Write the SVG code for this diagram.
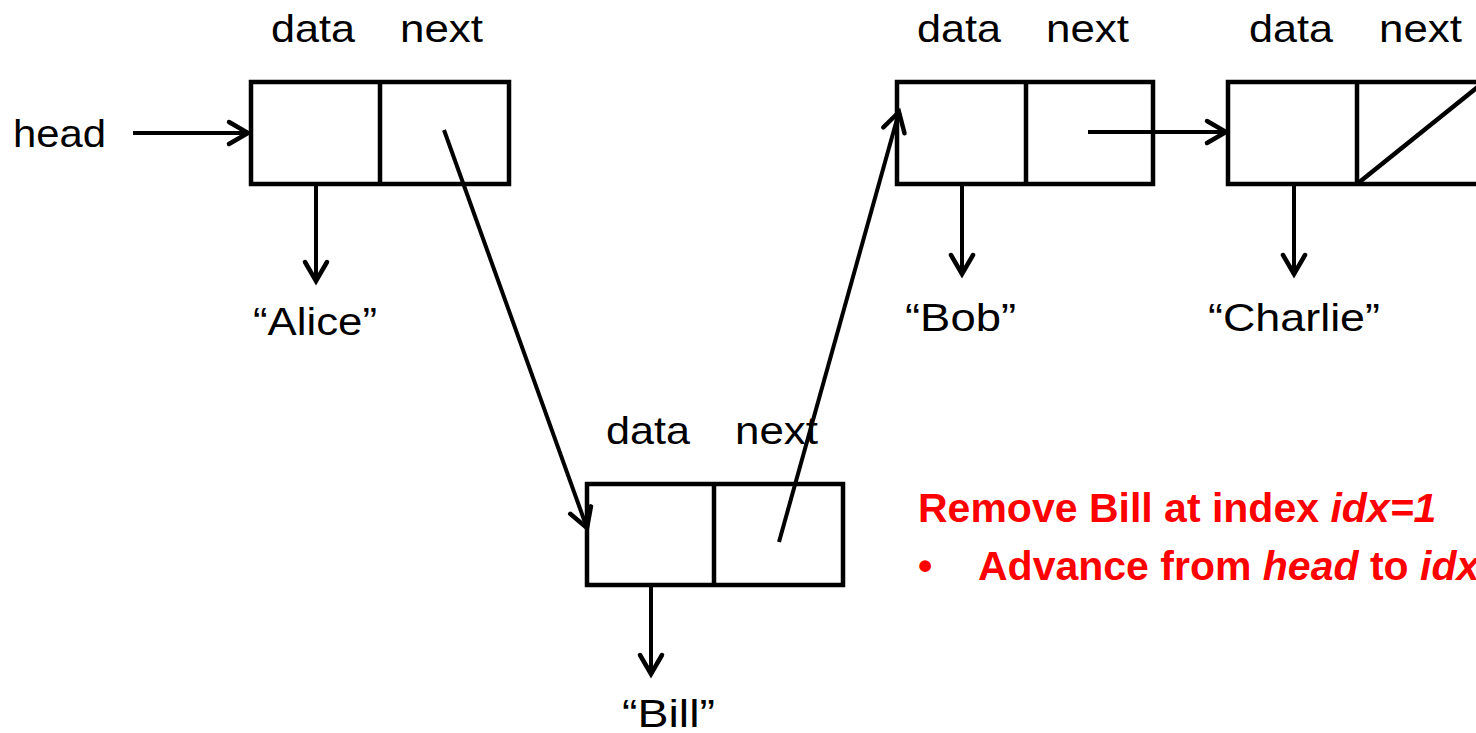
<svg xmlns="http://www.w3.org/2000/svg" width="1476" height="733" viewBox="0 0 1476 733">
<style>
  .box{fill:#fff;stroke:#000;stroke-width:4.5}
  .div{stroke:#000;stroke-width:4.5}
  .lbl{font-family:"Liberation Sans",Arial,sans-serif;font-size:39px;fill:#000}
  .conn{stroke:#000;stroke-width:4;fill:none;marker-end:url(#arr)}
  .red{font-family:"Liberation Sans",Arial,sans-serif;font-size:41px;font-weight:bold;fill:#ff0000}
</style>
<defs>
  <marker id="arr" markerUnits="userSpaceOnUse" markerWidth="40" markerHeight="40" viewBox="-30 -20 40 40" refX="0" refY="0" orient="auto">
    <path d="M-19,-11 L0,0 L-19,11" fill="none" stroke="#000" stroke-width="4.5" stroke-linecap="round" stroke-linejoin="miter"/>
  </marker>
</defs>
<rect width="1476" height="733" fill="#fff"/>

<g id="head-label"><text class="lbl" x="13" y="147" textLength="93" lengthAdjust="spacingAndGlyphs">head</text></g>

<g id="node-alice">
  <text class="lbl" x="271" y="42" textLength="84" lengthAdjust="spacingAndGlyphs">data</text>
  <text class="lbl" x="400" y="42" textLength="83" lengthAdjust="spacingAndGlyphs">next</text>
  <rect class="box" x="251" y="82" width="258" height="102"/>
  <line class="div" x1="380" y1="82" x2="380" y2="184"/>
</g>
<g id="node-bill">
  <text class="lbl" x="606" y="444" textLength="84" lengthAdjust="spacingAndGlyphs">data</text>
  <text class="lbl" x="735" y="444" textLength="83" lengthAdjust="spacingAndGlyphs">next</text>
  <rect class="box" x="587" y="484" width="256" height="101"/>
  <line class="div" x1="714" y1="484" x2="714" y2="585"/>
</g>
<g id="node-bob">
  <text class="lbl" x="917" y="42" textLength="84" lengthAdjust="spacingAndGlyphs">data</text>
  <text class="lbl" x="1046" y="42" textLength="83" lengthAdjust="spacingAndGlyphs">next</text>
  <rect class="box" x="897" y="82" width="256" height="102"/>
  <line class="div" x1="1026" y1="82" x2="1026" y2="184"/>
</g>
<g id="node-charlie">
  <text class="lbl" x="1249" y="42" textLength="84" lengthAdjust="spacingAndGlyphs">data</text>
  <text class="lbl" x="1379" y="42" textLength="83" lengthAdjust="spacingAndGlyphs">next</text>
  <rect class="box" x="1228" y="82" width="256" height="102"/>
  <line class="div" x1="1357" y1="82" x2="1357" y2="184"/>
  <line class="div" x1="1357" y1="184" x2="1484" y2="82"/>
</g>

<g id="val-alice"><text class="lbl" x="253" y="335" textLength="124" lengthAdjust="spacingAndGlyphs">“Alice”</text></g>
<g id="val-bill"><text class="lbl" x="622" y="727" textLength="93" lengthAdjust="spacingAndGlyphs">“Bill”</text></g>
<g id="val-bob"><text class="lbl" x="905" y="331" textLength="111" lengthAdjust="spacingAndGlyphs">“Bob”</text></g>
<g id="val-charlie"><text class="lbl" x="1208" y="331" textLength="172" lengthAdjust="spacingAndGlyphs">“Charlie”</text></g>

<g id="connectors">
  <line class="conn" x1="133" y1="133" x2="248" y2="133"/>
  <line class="conn" x1="316" y1="184" x2="316" y2="281"/>
  <line class="conn" x1="444" y1="130" x2="587" y2="528"/>
  <line class="conn" x1="651" y1="585" x2="651" y2="674"/>
  <line class="conn" x1="779" y1="542" x2="899" y2="112"/>
  <line class="conn" x1="962" y1="184" x2="962" y2="274"/>
  <line class="conn" x1="1088" y1="132" x2="1226" y2="132"/>
  <line class="conn" x1="1294" y1="184" x2="1294" y2="274"/>
</g>

<g id="note">
  <text class="red" x="918" y="522">Remove Bill at index <tspan font-style="italic">idx=1</tspan></text>
  <text class="red" x="918" y="580">•</text>
  <text class="red" x="978" y="580">Advance from <tspan font-style="italic">head</tspan> to <tspan font-style="italic">idx</tspan></text>
</g>
</svg>
